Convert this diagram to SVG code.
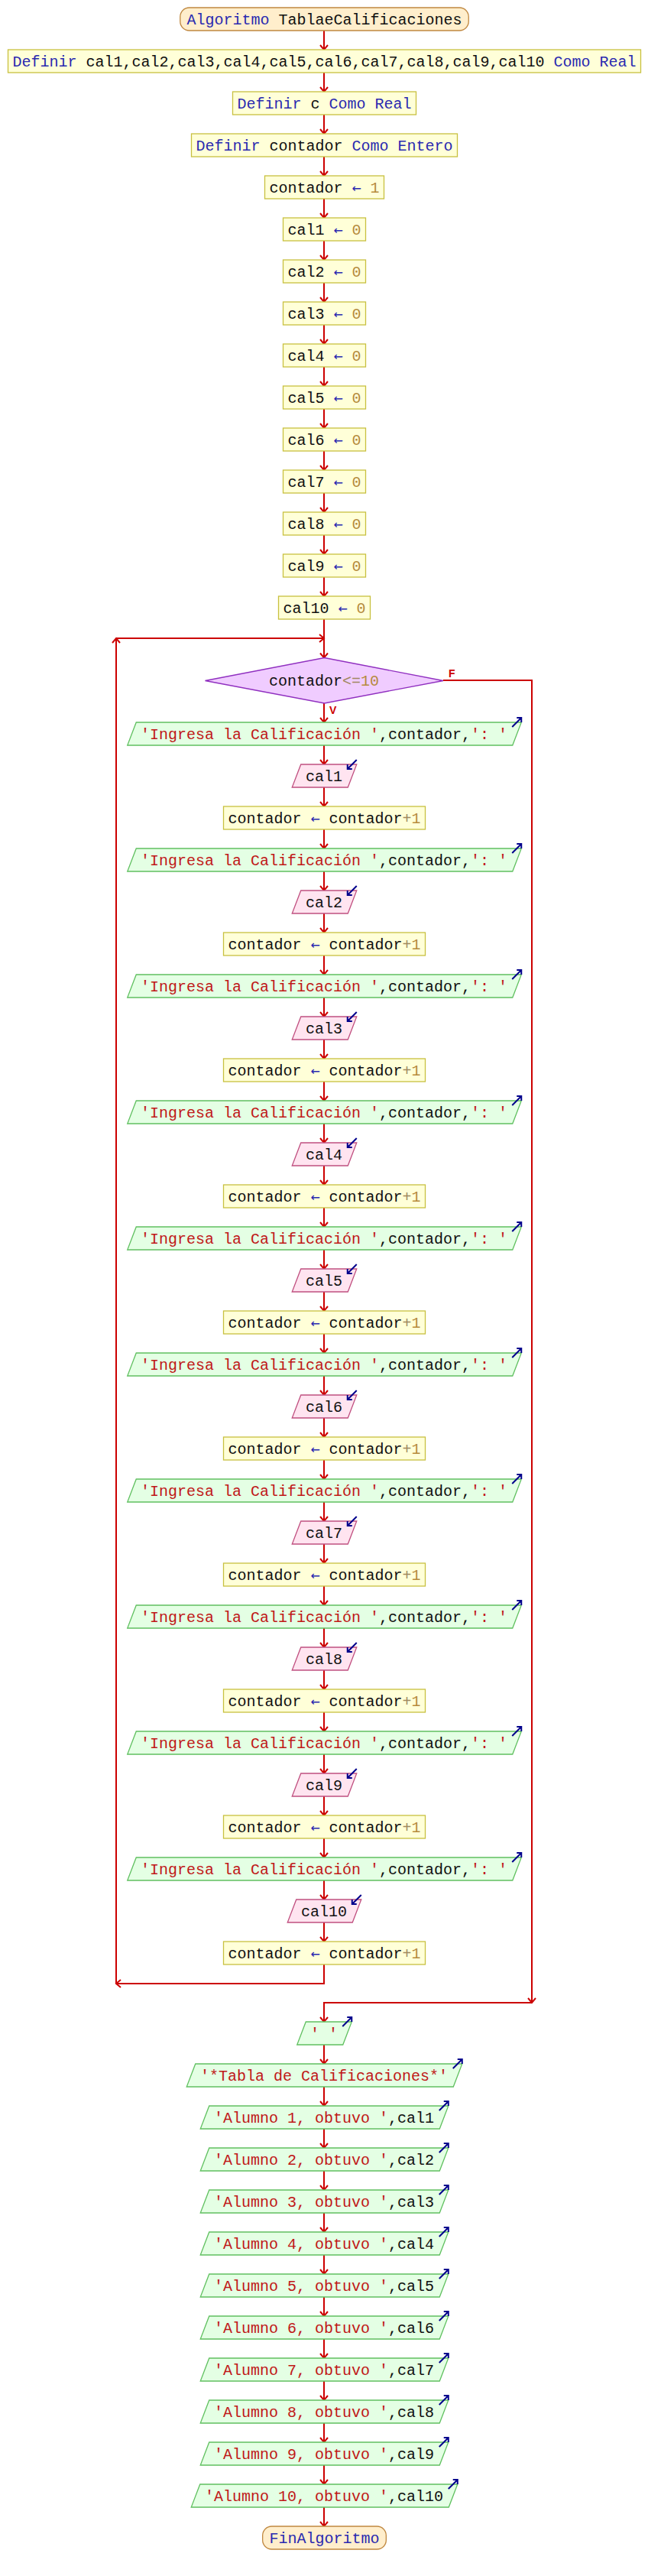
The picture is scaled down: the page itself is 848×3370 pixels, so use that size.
<svg xmlns="http://www.w3.org/2000/svg" xmlns:xlink="http://www.w3.org/1999/xlink" width="848" height="3370" viewBox="0 0 848 3370">
<style>
.t{font-family:"Liberation Mono","DejaVu Sans Mono",monospace;font-size:20px;white-space:pre;text-anchor:middle;fill:#101010}
.k{fill:#2a2ab0}.n{fill:#b58a3c}.a{fill:#2a2ab0;font-family:"DejaVu Sans Mono",monospace;font-weight:normal}.s{fill:#c01818}.o{fill:#a08860}
.proc{fill:#ffffd8;stroke:#c8c040;stroke-width:1.3}
.term{fill:#ffeecc;stroke:#c08840;stroke-width:1.3}
.out{fill:#e4ffe4;stroke:#60c060;stroke-width:1.3}
.inp{fill:#ffe4f0;stroke:#c05080;stroke-width:1.3}
.dec{fill:#f0ccff;stroke:#9030c0;stroke-width:1.3}
.c{fill:none;stroke:#cc0000;stroke-width:2;marker-end:url(#ah)}
.ic{fill:none;stroke:#00008c;stroke-width:2}
.lbl{font-family:"Liberation Sans",Arial,sans-serif;font-size:14px;font-weight:bold;fill:#cc0000}
</style>
<defs>
<marker id="ah" markerUnits="userSpaceOnUse" orient="auto" refX="0" refY="0" markerWidth="14" markerHeight="14" overflow="visible"><path d="M-6,-5 L0,0 L-6,5" fill="none" stroke="#cc0000" stroke-width="2"/></marker>
<path id="icOut" class="ic" d="M-12,12 L0,0 M-6,0 L0,0 L0,6"/>
<path id="icIn" class="ic" d="M12,-12 L0,0 M6,0 L0,0 L0,-6"/>
</defs>
<g id="connectors">
<path class="c" d="M424 40V65"/><path class="c" d="M424 95V120"/><path class="c" d="M424 150V175"/><path class="c" d="M424 205V230"/><path class="c" d="M424 260V285"/><path class="c" d="M424 315V340"/><path class="c" d="M424 370V395"/><path class="c" d="M424 425V450"/><path class="c" d="M424 480V505"/><path class="c" d="M424 535V560"/><path class="c" d="M424 590V615"/><path class="c" d="M424 645V670"/><path class="c" d="M424 700V725"/><path class="c" d="M424 755V780"/>
<path class="c" d="M424 810V860.5"/>
<path class="c" d="M424 920V945"/>
<path class="c" d="M424 975V1000"/><path class="c" d="M424 1030V1055"/><path class="c" d="M424 1085V1110"/>
<path class="c" d="M424 1140V1165"/><path class="c" d="M424 1195V1220"/><path class="c" d="M424 1250V1275"/>
<path class="c" d="M424 1305V1330"/><path class="c" d="M424 1360V1385"/><path class="c" d="M424 1415V1440"/>
<path class="c" d="M424 1470V1495"/><path class="c" d="M424 1525V1550"/><path class="c" d="M424 1580V1605"/>
<path class="c" d="M424 1635V1660"/><path class="c" d="M424 1690V1715"/><path class="c" d="M424 1745V1770"/>
<path class="c" d="M424 1800V1825"/><path class="c" d="M424 1855V1880"/><path class="c" d="M424 1910V1935"/>
<path class="c" d="M424 1965V1990"/><path class="c" d="M424 2020V2045"/><path class="c" d="M424 2075V2100"/>
<path class="c" d="M424 2130V2155"/><path class="c" d="M424 2185V2210"/><path class="c" d="M424 2240V2265"/>
<path class="c" d="M424 2295V2320"/><path class="c" d="M424 2350V2375"/><path class="c" d="M424 2405V2430"/>
<path class="c" d="M424 2460V2485"/><path class="c" d="M424 2515V2540"/>
<path class="c" d="M424 2570V2595H152"/>
<path class="c" d="M152 2595V835"/>
<path class="c" d="M152 835H424"/>
<path class="c" d="M580 890H696V2620"/>
<path class="c" d="M696 2620H424V2645"/>
<path class="c" d="M424 2675V2700"/><path class="c" d="M424 2730V2755"/><path class="c" d="M424 2785V2810"/><path class="c" d="M424 2840V2865"/><path class="c" d="M424 2895V2920"/><path class="c" d="M424 2950V2975"/><path class="c" d="M424 3005V3030"/><path class="c" d="M424 3060V3085"/><path class="c" d="M424 3115V3140"/><path class="c" d="M424 3170V3195"/><path class="c" d="M424 3225V3250"/><path class="c" d="M424 3280V3305"/>
<text class="lbl" x="587" y="885.5">F</text>
<text class="lbl" x="431" y="933.5">V</text>
</g>
<g id="n_inicio"><rect class="term" x="235.75" y="10" width="377.5" height="30" rx="12"/><text class="t" x="424.5" y="31.5"><tspan class="k">Algoritmo</tspan> TablaeCalificaciones</text></g>
<g id="n_def1"><rect class="proc" x="10.5" y="65" width="828" height="30"/><text class="t" x="424.5" y="86.5"><tspan class="k">Definir</tspan> cal1,cal2,cal3,cal4,cal5,cal6,cal7,cal8,cal9,cal10 <tspan class="k">Como Real</tspan></text></g>
<g id="n_def2"><rect class="proc" x="304.5" y="120" width="240" height="30"/><text class="t" x="424.5" y="141.5"><tspan class="k">Definir</tspan> c <tspan class="k">Como Real</tspan></text></g>
<g id="n_def3"><rect class="proc" x="250.5" y="175" width="348" height="30"/><text class="t" x="424.5" y="196.5"><tspan class="k">Definir</tspan> contador <tspan class="k">Como Entero</tspan></text></g>
<g id="n_cont1"><rect class="proc" x="346.5" y="230" width="156" height="30"/><text class="t" x="424.5" y="251.5">contador <tspan class="a">←</tspan> <tspan class="n">1</tspan></text></g>
<g id="n_cal1_0"><rect class="proc" x="370.5" y="285" width="108" height="30"/><text class="t" x="424.5" y="306.5">cal1 <tspan class="a">←</tspan> <tspan class="n">0</tspan></text></g>
<g id="n_cal2_0"><rect class="proc" x="370.5" y="340" width="108" height="30"/><text class="t" x="424.5" y="361.5">cal2 <tspan class="a">←</tspan> <tspan class="n">0</tspan></text></g>
<g id="n_cal3_0"><rect class="proc" x="370.5" y="395" width="108" height="30"/><text class="t" x="424.5" y="416.5">cal3 <tspan class="a">←</tspan> <tspan class="n">0</tspan></text></g>
<g id="n_cal4_0"><rect class="proc" x="370.5" y="450" width="108" height="30"/><text class="t" x="424.5" y="471.5">cal4 <tspan class="a">←</tspan> <tspan class="n">0</tspan></text></g>
<g id="n_cal5_0"><rect class="proc" x="370.5" y="505" width="108" height="30"/><text class="t" x="424.5" y="526.5">cal5 <tspan class="a">←</tspan> <tspan class="n">0</tspan></text></g>
<g id="n_cal6_0"><rect class="proc" x="370.5" y="560" width="108" height="30"/><text class="t" x="424.5" y="581.5">cal6 <tspan class="a">←</tspan> <tspan class="n">0</tspan></text></g>
<g id="n_cal7_0"><rect class="proc" x="370.5" y="615" width="108" height="30"/><text class="t" x="424.5" y="636.5">cal7 <tspan class="a">←</tspan> <tspan class="n">0</tspan></text></g>
<g id="n_cal8_0"><rect class="proc" x="370.5" y="670" width="108" height="30"/><text class="t" x="424.5" y="691.5">cal8 <tspan class="a">←</tspan> <tspan class="n">0</tspan></text></g>
<g id="n_cal9_0"><rect class="proc" x="370.5" y="725" width="108" height="30"/><text class="t" x="424.5" y="746.5">cal9 <tspan class="a">←</tspan> <tspan class="n">0</tspan></text></g>
<g id="n_cal10_0"><rect class="proc" x="364.5" y="780" width="120" height="30"/><text class="t" x="424.5" y="801.5">cal10 <tspan class="a">←</tspan> <tspan class="n">0</tspan></text></g>
<g id="n_mientras"><polygon class="dec" points="424.5,860.5 580,890.5 424.5,920 268.5,890.5"/><text class="t" x="424" y="897">contador<tspan class="o">&lt;=</tspan><tspan class="n">10</tspan></text></g>

<g id="n_esc1"><polygon class="out" points="178.25,945 682.25,945 670.75,975 166.75,975"/><text class="t" x="424" y="966.5"><tspan class="s">'Ingresa la Calificación '</tspan>,contador,<tspan class="s">': '</tspan></text><use xlink:href="#icOut" x="682.25" y="939"/></g>
<g id="n_leer1"><polygon class="inp" points="393.75,1000 466.75,1000 455.25,1030 382.25,1030"/><text class="t" x="424" y="1021.5">cal1</text><use xlink:href="#icIn" x="454.75" y="1006"/></g>
<g id="n_inc1"><rect class="proc" x="292.5" y="1055" width="264" height="30"/><text class="t" x="424.5" y="1076.5">contador <tspan class="a">←</tspan> contador<tspan class="o">+</tspan><tspan class="n">1</tspan></text></g>

<g id="n_esc2"><polygon class="out" points="178.25,1110 682.25,1110 670.75,1140 166.75,1140"/><text class="t" x="424" y="1131.5"><tspan class="s">'Ingresa la Calificación '</tspan>,contador,<tspan class="s">': '</tspan></text><use xlink:href="#icOut" x="682.25" y="1104"/></g>
<g id="n_leer2"><polygon class="inp" points="393.75,1165 466.75,1165 455.25,1195 382.25,1195"/><text class="t" x="424" y="1186.5">cal2</text><use xlink:href="#icIn" x="454.75" y="1171"/></g>
<g id="n_inc2"><rect class="proc" x="292.5" y="1220" width="264" height="30"/><text class="t" x="424.5" y="1241.5">contador <tspan class="a">←</tspan> contador<tspan class="o">+</tspan><tspan class="n">1</tspan></text></g>

<g id="n_esc3"><polygon class="out" points="178.25,1275 682.25,1275 670.75,1305 166.75,1305"/><text class="t" x="424" y="1296.5"><tspan class="s">'Ingresa la Calificación '</tspan>,contador,<tspan class="s">': '</tspan></text><use xlink:href="#icOut" x="682.25" y="1269"/></g>
<g id="n_leer3"><polygon class="inp" points="393.75,1330 466.75,1330 455.25,1360 382.25,1360"/><text class="t" x="424" y="1351.5">cal3</text><use xlink:href="#icIn" x="454.75" y="1336"/></g>
<g id="n_inc3"><rect class="proc" x="292.5" y="1385" width="264" height="30"/><text class="t" x="424.5" y="1406.5">contador <tspan class="a">←</tspan> contador<tspan class="o">+</tspan><tspan class="n">1</tspan></text></g>

<g id="n_esc4"><polygon class="out" points="178.25,1440 682.25,1440 670.75,1470 166.75,1470"/><text class="t" x="424" y="1461.5"><tspan class="s">'Ingresa la Calificación '</tspan>,contador,<tspan class="s">': '</tspan></text><use xlink:href="#icOut" x="682.25" y="1434"/></g>
<g id="n_leer4"><polygon class="inp" points="393.75,1495 466.75,1495 455.25,1525 382.25,1525"/><text class="t" x="424" y="1516.5">cal4</text><use xlink:href="#icIn" x="454.75" y="1501"/></g>
<g id="n_inc4"><rect class="proc" x="292.5" y="1550" width="264" height="30"/><text class="t" x="424.5" y="1571.5">contador <tspan class="a">←</tspan> contador<tspan class="o">+</tspan><tspan class="n">1</tspan></text></g>

<g id="n_esc5"><polygon class="out" points="178.25,1605 682.25,1605 670.75,1635 166.75,1635"/><text class="t" x="424" y="1626.5"><tspan class="s">'Ingresa la Calificación '</tspan>,contador,<tspan class="s">': '</tspan></text><use xlink:href="#icOut" x="682.25" y="1599"/></g>
<g id="n_leer5"><polygon class="inp" points="393.75,1660 466.75,1660 455.25,1690 382.25,1690"/><text class="t" x="424" y="1681.5">cal5</text><use xlink:href="#icIn" x="454.75" y="1666"/></g>
<g id="n_inc5"><rect class="proc" x="292.5" y="1715" width="264" height="30"/><text class="t" x="424.5" y="1736.5">contador <tspan class="a">←</tspan> contador<tspan class="o">+</tspan><tspan class="n">1</tspan></text></g>

<g id="n_esc6"><polygon class="out" points="178.25,1770 682.25,1770 670.75,1800 166.75,1800"/><text class="t" x="424" y="1791.5"><tspan class="s">'Ingresa la Calificación '</tspan>,contador,<tspan class="s">': '</tspan></text><use xlink:href="#icOut" x="682.25" y="1764"/></g>
<g id="n_leer6"><polygon class="inp" points="393.75,1825 466.75,1825 455.25,1855 382.25,1855"/><text class="t" x="424" y="1846.5">cal6</text><use xlink:href="#icIn" x="454.75" y="1831"/></g>
<g id="n_inc6"><rect class="proc" x="292.5" y="1880" width="264" height="30"/><text class="t" x="424.5" y="1901.5">contador <tspan class="a">←</tspan> contador<tspan class="o">+</tspan><tspan class="n">1</tspan></text></g>

<g id="n_esc7"><polygon class="out" points="178.25,1935 682.25,1935 670.75,1965 166.75,1965"/><text class="t" x="424" y="1956.5"><tspan class="s">'Ingresa la Calificación '</tspan>,contador,<tspan class="s">': '</tspan></text><use xlink:href="#icOut" x="682.25" y="1929"/></g>
<g id="n_leer7"><polygon class="inp" points="393.75,1990 466.75,1990 455.25,2020 382.25,2020"/><text class="t" x="424" y="2011.5">cal7</text><use xlink:href="#icIn" x="454.75" y="1996"/></g>
<g id="n_inc7"><rect class="proc" x="292.5" y="2045" width="264" height="30"/><text class="t" x="424.5" y="2066.5">contador <tspan class="a">←</tspan> contador<tspan class="o">+</tspan><tspan class="n">1</tspan></text></g>

<g id="n_esc8"><polygon class="out" points="178.25,2100 682.25,2100 670.75,2130 166.75,2130"/><text class="t" x="424" y="2121.5"><tspan class="s">'Ingresa la Calificación '</tspan>,contador,<tspan class="s">': '</tspan></text><use xlink:href="#icOut" x="682.25" y="2094"/></g>
<g id="n_leer8"><polygon class="inp" points="393.75,2155 466.75,2155 455.25,2185 382.25,2185"/><text class="t" x="424" y="2176.5">cal8</text><use xlink:href="#icIn" x="454.75" y="2161"/></g>
<g id="n_inc8"><rect class="proc" x="292.5" y="2210" width="264" height="30"/><text class="t" x="424.5" y="2231.5">contador <tspan class="a">←</tspan> contador<tspan class="o">+</tspan><tspan class="n">1</tspan></text></g>

<g id="n_esc9"><polygon class="out" points="178.25,2265 682.25,2265 670.75,2295 166.75,2295"/><text class="t" x="424" y="2286.5"><tspan class="s">'Ingresa la Calificación '</tspan>,contador,<tspan class="s">': '</tspan></text><use xlink:href="#icOut" x="682.25" y="2259"/></g>
<g id="n_leer9"><polygon class="inp" points="393.75,2320 466.75,2320 455.25,2350 382.25,2350"/><text class="t" x="424" y="2341.5">cal9</text><use xlink:href="#icIn" x="454.75" y="2326"/></g>
<g id="n_inc9"><rect class="proc" x="292.5" y="2375" width="264" height="30"/><text class="t" x="424.5" y="2396.5">contador <tspan class="a">←</tspan> contador<tspan class="o">+</tspan><tspan class="n">1</tspan></text></g>

<g id="n_esc10"><polygon class="out" points="178.25,2430 682.25,2430 670.75,2460 166.75,2460"/><text class="t" x="424" y="2451.5"><tspan class="s">'Ingresa la Calificación '</tspan>,contador,<tspan class="s">': '</tspan></text><use xlink:href="#icOut" x="682.25" y="2424"/></g>
<g id="n_leer10"><polygon class="inp" points="387.75,2485 472.75,2485 461.25,2515 376.25,2515"/><text class="t" x="424" y="2506.5">cal10</text><use xlink:href="#icIn" x="460.75" y="2491"/></g>
<g id="n_inc10"><rect class="proc" x="292.5" y="2540" width="264" height="30"/><text class="t" x="424.5" y="2561.5">contador <tspan class="a">←</tspan> contador<tspan class="o">+</tspan><tspan class="n">1</tspan></text></g>

<g id="n_blank"><polygon class="out" points="400.25,2645 460.25,2645 448.75,2675 388.75,2675"/><text class="t" x="424" y="2666.5"><tspan class="s">' '</tspan></text><use xlink:href="#icOut" x="460.25" y="2639"/></g>
<g id="n_tabla"><polygon class="out" points="255.75,2700 604.75,2700 593.25,2730 244.25,2730"/><text class="t" x="424" y="2721.5"><tspan class="s">'*Tabla de Calificaciones*'</tspan></text><use xlink:href="#icOut" x="604.75" y="2694"/></g>
<g id="n_al1"><polygon class="out" points="273.75,2755 586.75,2755 575.25,2785 262.25,2785"/><text class="t" x="424" y="2776.5"><tspan class="s">'Alumno 1, obtuvo '</tspan>,cal1</text><use xlink:href="#icOut" x="586.75" y="2749"/></g>
<g id="n_al2"><polygon class="out" points="273.75,2810 586.75,2810 575.25,2840 262.25,2840"/><text class="t" x="424" y="2831.5"><tspan class="s">'Alumno 2, obtuvo '</tspan>,cal2</text><use xlink:href="#icOut" x="586.75" y="2804"/></g>
<g id="n_al3"><polygon class="out" points="273.75,2865 586.75,2865 575.25,2895 262.25,2895"/><text class="t" x="424" y="2886.5"><tspan class="s">'Alumno 3, obtuvo '</tspan>,cal3</text><use xlink:href="#icOut" x="586.75" y="2859"/></g>
<g id="n_al4"><polygon class="out" points="273.75,2920 586.75,2920 575.25,2950 262.25,2950"/><text class="t" x="424" y="2941.5"><tspan class="s">'Alumno 4, obtuvo '</tspan>,cal4</text><use xlink:href="#icOut" x="586.75" y="2914"/></g>
<g id="n_al5"><polygon class="out" points="273.75,2975 586.75,2975 575.25,3005 262.25,3005"/><text class="t" x="424" y="2996.5"><tspan class="s">'Alumno 5, obtuvo '</tspan>,cal5</text><use xlink:href="#icOut" x="586.75" y="2969"/></g>
<g id="n_al6"><polygon class="out" points="273.75,3030 586.75,3030 575.25,3060 262.25,3060"/><text class="t" x="424" y="3051.5"><tspan class="s">'Alumno 6, obtuvo '</tspan>,cal6</text><use xlink:href="#icOut" x="586.75" y="3024"/></g>
<g id="n_al7"><polygon class="out" points="273.75,3085 586.75,3085 575.25,3115 262.25,3115"/><text class="t" x="424" y="3106.5"><tspan class="s">'Alumno 7, obtuvo '</tspan>,cal7</text><use xlink:href="#icOut" x="586.75" y="3079"/></g>
<g id="n_al8"><polygon class="out" points="273.75,3140 586.75,3140 575.25,3170 262.25,3170"/><text class="t" x="424" y="3161.5"><tspan class="s">'Alumno 8, obtuvo '</tspan>,cal8</text><use xlink:href="#icOut" x="586.75" y="3134"/></g>
<g id="n_al9"><polygon class="out" points="273.75,3195 586.75,3195 575.25,3225 262.25,3225"/><text class="t" x="424" y="3216.5"><tspan class="s">'Alumno 9, obtuvo '</tspan>,cal9</text><use xlink:href="#icOut" x="586.75" y="3189"/></g>
<g id="n_al10"><polygon class="out" points="261.75,3250 598.75,3250 587.25,3280 250.25,3280"/><text class="t" x="424" y="3271.5"><tspan class="s">'Alumno 10, obtuvo '</tspan>,cal10</text><use xlink:href="#icOut" x="598.75" y="3244"/></g>
<g id="n_fin"><rect class="term" x="343.65" y="3305" width="161.7" height="30" rx="12"/><text class="t" x="424.5" y="3326.5"><tspan class="k">FinAlgoritmo</tspan></text></g>
</svg>
